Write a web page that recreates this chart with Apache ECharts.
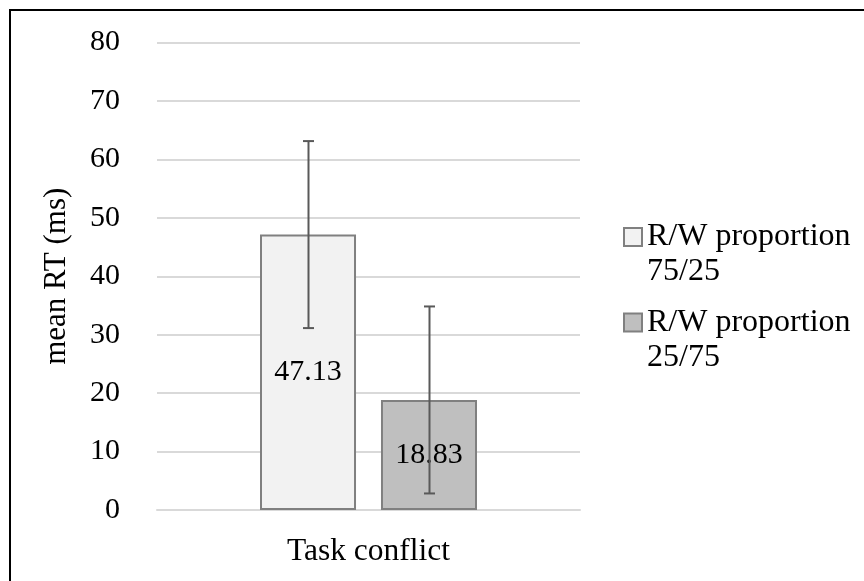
<!DOCTYPE html>
<html>
<head>
<meta charset="utf-8">
<script src="https://cdn.jsdelivr.net/npm/echarts@6/dist/echarts.min.js"></script>
<style>
html,body{margin:0;padding:0;background:#fff;}
#chart{width:864px;height:581px;}
</style>
</head>
<body>
<div id="chart"></div>
<script>
const categories = ['Task conflict'];
const seriesNames = ['R/W proportion\n75/25', 'R/W proportion\n25/75'];
const meanRT_75_25 = [47.13];
const meanRT_25_75 = [18.83];
const err_75_25 = [16.0];
const err_25_75 = [16.0];
const yMin = 0, yMax = 80, yStep = 10;
const yAxisTitle = 'mean RT (ms)';

const FONT = 'Liberation Serif';
const BAR_W = 0.227;
const BAR_GAP = 0.26;

const errData = [];
categories.forEach((c, i) => {
  errData.push([i, meanRT_75_25[i], err_75_25[i], 0]);
  errData.push([i, meanRT_25_75[i], err_25_75[i], 1]);
});

const chart = echarts.init(document.getElementById('chart'));
const barLabel = {
  show: true, position: 'inside', fontFamily: FONT, fontSize: 30, color: '#000',
  formatter: p => Number(p.value).toFixed(2)
};
const legendText = { fontFamily: FONT, fontSize: 32, color: '#000', lineHeight: 35 };
const legendFmt = name => '\n' + name;
chart.setOption({
  animation: false,
  backgroundColor: '#fff',
  graphic: [{
    type: 'rect', silent: true,
    shape: { x: 10, y: 10, width: 900, height: 700 },
    style: { fill: 'none', stroke: '#000', lineWidth: 2 }
  }],
  grid: { left: 157, right: 284, top: 42.5, bottom: 71, containLabel: false },
  legend: [
    { data: [seriesNames[0]], orient: 'vertical', left: 623, top: 184.5, padding: 0,
      itemWidth: 18, itemHeight: 18, icon: 'rect', textStyle: legendText, formatter: legendFmt },
    { data: [seriesNames[1]], orient: 'vertical', left: 623, top: 270, padding: 0,
      itemWidth: 18, itemHeight: 18, icon: 'rect', textStyle: legendText, formatter: legendFmt }
  ],
  xAxis: {
    type: 'category', data: categories,
    axisLine: { show: true, lineStyle: { color: '#d9d9d9', width: 2 } },
    axisTick: { show: false },
    axisLabel: { fontFamily: FONT, fontSize: 31.5, color: '#000', margin: 26 }
  },
  yAxis: {
    type: 'value', min: yMin, max: yMax, interval: yStep,
    name: yAxisTitle, nameLocation: 'middle', nameRotate: 90, nameGap: 85,
    nameTextStyle: { fontFamily: FONT, fontSize: 31, color: '#000' },
    axisLine: { show: false }, axisTick: { show: false },
    axisLabel: { fontFamily: FONT, fontSize: 30, color: '#000', margin: 37 },
    splitLine: { lineStyle: { color: '#d9d9d9', width: 2 } }
  },
  series: [
    { name: seriesNames[0], type: 'bar', data: meanRT_75_25,
      barWidth: (BAR_W * 100) + '%', barGap: (BAR_GAP * 100) + '%',
      itemStyle: { color: '#f2f2f2', borderColor: '#808080', borderWidth: 2 },
      label: barLabel },
    { name: seriesNames[1], type: 'bar', data: meanRT_25_75,
      barWidth: (BAR_W * 100) + '%', barGap: (BAR_GAP * 100) + '%',
      itemStyle: { color: '#bfbfbf', borderColor: '#808080', borderWidth: 2 },
      label: barLabel },
    { type: 'custom', z: 10, data: errData, silent: true,
      renderItem: function (params, api) {
        const cat = api.value(0), val = api.value(1), err = api.value(2), s = api.value(3);
        const band = api.size([1, 0])[0];
        const bw = band * BAR_W;
        const off = (s === 0 ? -1 : 1) * (bw + bw * BAR_GAP) / 2;
        const x = Math.round(api.coord([cat, val])[0] + off) + 0.5;
        const yT = api.coord([cat, val + err])[1];
        const yB = api.coord([cat, val - err])[1];
        const st = { stroke: '#595959', lineWidth: 2 };
        return { type: 'group', children: [
          { type: 'line', shape: { x1: x, y1: yT, x2: x, y2: yB }, style: st },
          { type: 'line', shape: { x1: x - 5.5, y1: yT, x2: x + 5.5, y2: yT }, style: st },
          { type: 'line', shape: { x1: x - 5.5, y1: yB, x2: x + 5.5, y2: yB }, style: st }
        ]};
      }
    }
  ]
});
</script>
</body>
</html>
